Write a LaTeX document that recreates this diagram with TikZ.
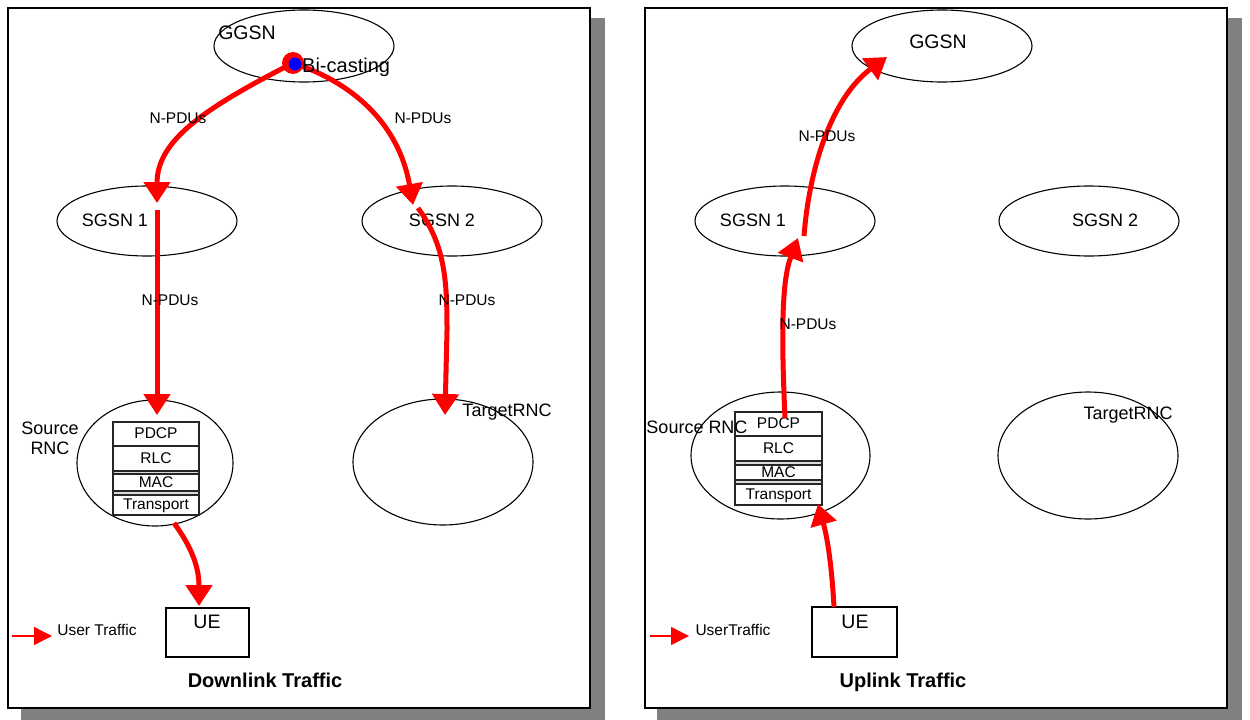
\documentclass[tikz,border=0pt]{standalone}
\usepackage{fontspec}
\setmainfont{Liberation Sans}
\usetikzlibrary{arrows.meta,shapes.geometric}
\begin{document}
\begin{tikzpicture}[x=1pt,y=-1pt,
  frame/.style={draw=black, line width=1.5pt, fill=white},
  shadowbox/.style={fill=black!50, draw=none},
  ell/.style={draw=black, line width=1.1pt, ellipse, inner sep=0pt},
  txt/.style={inner sep=0pt, text height=0.72em, text depth=0pt, yshift=-3pt},
  fs/.style={txt, font=\fontsize{15.5}{18}\selectfont},
  fm/.style={txt, font=\fontsize{18}{21}\selectfont},
  fl/.style={txt, font=\fontsize{19.5}{23}\selectfont},
  ft/.style={txt, font=\bfseries\fontsize{20}{24}\selectfont},
  layer/.style={draw=black!85, line width=1.3pt, fill=white, inner sep=0pt, text height=0.92em, text depth=0pt, font=\fontsize{15.5}{18}\selectfont},
  gapbox/.style={draw=black!85, line width=1.1pt, fill=black!15, inner sep=0pt},
  uebox/.style={draw=black, line width=1.3pt, fill=white, inner sep=0pt},
  flow/.style={draw=red, line width=5pt, -{Triangle[length=21pt,width=26pt]}},
  legend/.style={draw=red, line width=1.5pt, -{Triangle[length=18pt,width=18pt]}},
]
\useasboundingbox (0,0) rectangle (1250,720);
% ---------- panels ----------
\fill[shadowbox] (21,18) rectangle (605,722);
\fill[shadowbox] (657,18) rectangle (1242,722);
\draw[frame] (8,8) rectangle (590,708);
\draw[frame] (645,8) rectangle (1227,708);

% ================= LEFT: Downlink =================
\node[ell, minimum width=180pt, minimum height=72pt] (ggL) at (304,46) {};
\node[fl] (ggLt) at (247,33) {GGSN};
\node[ell, minimum width=180pt, minimum height=70pt] (s1L) at (147,221) {};
\node[fm] (s1Lt) at (115,220) {SGSN 1};
\node[ell, minimum width=180pt, minimum height=70pt] (s2L) at (452,221) {};
\node[fm] (s2Lt) at (442,220) {SGSN 2};
\node[ell, minimum width=156pt, minimum height=126pt] (srcL) at (155,463) {};
\node[align=center, inner sep=0pt, font=\fontsize{18}{20}\selectfont] (srcLt) at (50,438) {Source\\RNC};
\node[ell, minimum width=180pt, minimum height=126pt] (tgtL) at (443,462) {};
\node[fm] (tgtLt) at (507,410) {TargetRNC};

% protocol stack (left)
\node[layer, minimum width=86pt, minimum height=24pt] (pdcpL) at (156,434) {PDCP};
\node[layer, minimum width=86pt, minimum height=25pt] (rlcL) at (156,458.5) {RLC};
\node[gapbox, minimum width=86pt, minimum height=3pt] (g1L) at (156,472.5) {};
\node[layer, minimum width=86pt, minimum height=17pt] (macL) at (156,482.5) {MAC};
\node[gapbox, minimum width=86pt, minimum height=4pt] (g2L) at (156,493) {};
\node[layer, minimum width=86pt, minimum height=20pt] (trL) at (156,505) {Transport};

\node[uebox, minimum width=83pt, minimum height=49pt] (ueL) at (207.5,632.5) {};
\node[fl] (ueLt) at (207,622) {UE};

% connectors (left)
\coordinate (bc) at (293,63);
\coordinate (s1inL) at (157,203);
\coordinate (s2inL) at (413,205);
\coordinate (s2outL) at (418,208);
\coordinate (tgtinL) at (445,415);
\coordinate (s1outL) at (157,210);
\coordinate (srcinL) at (157,415);
\coordinate (srcoutL) at (174,523);
\coordinate (ueinL) at (199,606);
\draw[flow] (bc) .. controls (205,108) and (157,140) .. (s1inL);
\draw[flow] (bc) .. controls (360,85) and (400,130) .. (s2inL);
\draw[flow] (s2outL) .. controls (445,245) and (447,280) .. (447,330) -- (tgtinL);
\draw[flow] (s1outL) -- (srcinL);
\draw[flow] (srcoutL) .. controls (190,545) and (199,565) .. (ueinL);

\node[circle, fill=red, minimum width=20pt, minimum height=22pt, inner sep=0pt] (bcdot) at (293,63) {};
\node[circle, fill=blue, minimum size=13pt, inner sep=0pt] (bcin) at (295,64) {};
\node[txt, anchor=west, font=\fontsize{20}{24}\selectfont] (bct) at (302,66) {Bi-casting};

\node[fs] (n1L) at (178,117) {N-PDUs};
\node[fs] (n2L) at (423,117) {N-PDUs};
\node[fs] (n3L) at (170,299) {N-PDUs};
\node[fs] (n4L) at (467,299) {N-PDUs};

\coordinate (legAL) at (12,636);
\coordinate (legBL) at (52,636);
\draw[legend] (legAL) -- (legBL);
\node[fs] (legLt) at (97,629) {User Traffic};
\node[ft] (titleL) at (265,681) {Downlink Traffic};

% ================= RIGHT: Uplink =================
\node[ell, minimum width=180pt, minimum height=72pt] (ggR) at (942,46) {};
\node[fl] (ggRt) at (938,42) {GGSN};
\node[ell, minimum width=180pt, minimum height=70pt] (s1R) at (785,221) {};
\node[fm] (s1Rt) at (753,220) {SGSN 1};
\node[ell, minimum width=180pt, minimum height=70pt] (s2R) at (1089,221) {};
\node[fm] (s2Rt) at (1105,220) {SGSN 2};
\node[ell, minimum width=179pt, minimum height=127pt] (srcR) at (780.5,455.5) {};
\node[ell, minimum width=180pt, minimum height=127pt] (tgtR) at (1088,455.5) {};
\node[fm] (tgtRt) at (1128,413) {TargetRNC};

% protocol stack (right)
\node[layer, minimum width=87pt, minimum height=24pt] (pdcpR) at (778.5,424) {PDCP};
\node[layer, minimum width=87pt, minimum height=25pt] (rlcR) at (778.5,448.5) {RLC};
\node[gapbox, minimum width=87pt, minimum height=4pt] (g1R) at (778.5,463) {};
\node[layer, minimum width=87pt, minimum height=15pt] (macR) at (778.5,472.5) {MAC};
\node[gapbox, minimum width=87pt, minimum height=4pt] (g2R) at (778.5,482) {};
\node[layer, minimum width=87pt, minimum height=21pt] (trR) at (778.5,494.5) {Transport};
\node[fm] (srcRt) at (697,427) {Source RNC};

\node[uebox, minimum width=85pt, minimum height=50pt] (ueR) at (854.5,632) {};
\node[fl] (ueRt) at (855,622) {UE};

% connectors (right)
\coordinate (ueoutR) at (834,607);
\coordinate (srcinR) at (818,504);
\coordinate (pdcpoutR) at (785,418);
\coordinate (s1inR) at (798,238);
\coordinate (s1outR) at (804,236);
\coordinate (gginR) at (887,57);
\draw[flow] (ueoutR) .. controls (832,570) and (828,540) .. (srcinR);
\draw[flow] (pdcpoutR) .. controls (781,330) and (782,280) .. (s1inR);
\draw[flow] (s1outR) .. controls (810,160) and (835,95) .. (gginR);

\node[fs] (n1R) at (827,135) {N-PDUs};
\node[fs] (n2R) at (808,323) {N-PDUs};

\coordinate (legAR) at (650,636);
\coordinate (legBR) at (689,636);
\draw[legend] (legAR) -- (legBR);
\node[fs] (legRt) at (733,629) {UserTraffic};
\node[ft] (titleR) at (903,681) {Uplink Traffic};
\end{tikzpicture}
\end{document}
